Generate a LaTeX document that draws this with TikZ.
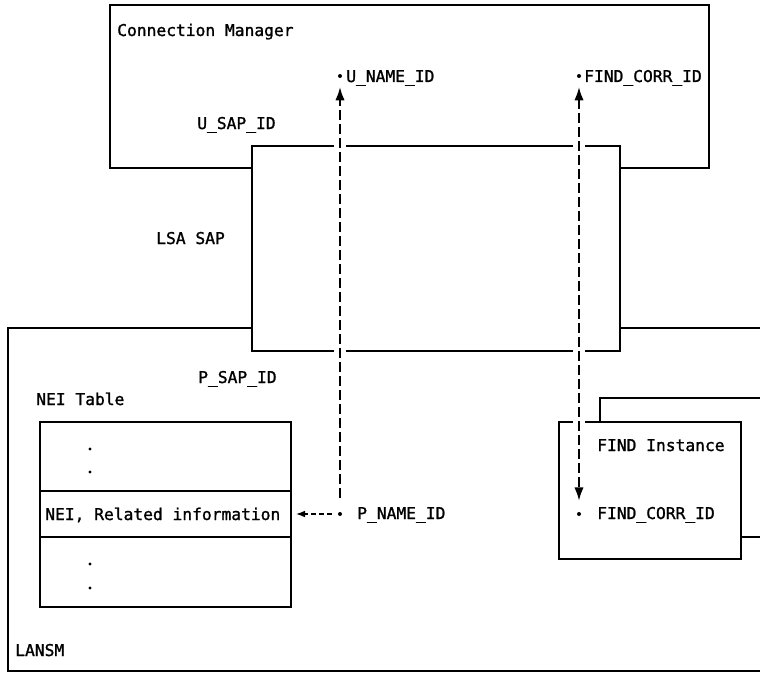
\documentclass[tikz,border=0pt]{standalone}
\usepackage{fontspec}
\setmainfont{DejaVu Sans Mono}[BoldFont=DejaVu Sans Mono, BoldFeatures={FakeBold=1.3}]
\usetikzlibrary{arrows.meta}
\tikzset{
  frame/.style={draw=black, line width=1pt},
  whitebox/.style={frame, fill=white},
  lbl/.style={anchor=base west, inner sep=0pt, font=\fontsize{12.2pt}{14pt}\selectfont\bfseries},
  pt/.style={circle, fill=black, inner sep=0pt, minimum size=3pt},
  tinydot/.style={circle, fill=black, inner sep=0pt, minimum size=2.6pt},
  halo/.style={preaction={draw=white, line width=9pt, solid, arrows=-}},
  longdash/.style={line width=1.5pt, dash pattern=on 7.5pt off 3pt},
  shortdash/.style={line width=1.2pt, dash pattern=on 3.5pt off 2.5pt}
}
\begin{document}
\begin{tikzpicture}[x=0.75pt,y=-0.75pt]
\useasboundingbox (0,0) rectangle (760,674);
\clip (0,0) rectangle (760,674);

% outer modules
\draw[frame] (110,5) rectangle (709,168);
\draw[frame] (8,328) rectangle (790,671);
\draw[whitebox] (252,146) rectangle (620,351);

% FIND instances (stacked)
\draw[whitebox] (600,398) rectangle (790,537);
\draw[whitebox] (559,422) rectangle (741,559);

% NEI table
\draw[frame] (40,422) rectangle (291,491);
\draw[frame] (40,491) rectangle (291,537);
\draw[frame] (40,537) rectangle (291,607);
\coordinate (neirow) at (291,514);

% reference points
\node[pt] (unm) at (340,76) {};
\node[pt] (fcm) at (579,76) {};
\node[pt] (pnm) at (340,514) {};
\node[pt] (fci) at (579,514) {};

% connectors
\draw[longdash, halo, -{Latex[length=10pt,width=7pt]},
      shorten <=10.5pt, shorten >=6.5pt] (pnm) -- (unm);
\draw[longdash, halo, {Latex[length=10pt,width=7pt]}-{Latex[length=10pt,width=7pt]},
      shorten <=6.5pt, shorten >=8.2pt] (fcm) -- (fci);
\draw[shortdash, -{Latex[length=7pt,width=5pt]},
      shorten <=4.5pt, shorten >=3.5pt] (pnm) -- (neirow);

% table rows
\node[tinydot] (d1) at (90,449) {};
\node[tinydot] (d2) at (90,472) {};
\node[tinydot] (d3) at (90,564) {};
\node[tinydot] (d4) at (90,588) {};

% labels
\node[lbl] (cm)    at (117,36)  {Connection Manager};
\node[lbl] (unmt)  at (346,82)  {U\_NAME\_ID};
\node[lbl] (fcmt)  at (584,82)  {FIND\_CORR\_ID};
\node[lbl] (usap)  at (197,129) {U\_SAP\_ID};
\node[lbl] (lsa)   at (156,244) {LSA SAP};
\node[lbl] (psap)  at (198,383) {P\_SAP\_ID};
\node[lbl] (neit)  at (36,405)  {NEI Table};
\node[lbl] (neirl) at (45,520)  {NEI, Related information};
\node[lbl] (pnmt)  at (357,519) {P\_NAME\_ID};
\node[lbl] (find)  at (597,451) {FIND Instance};
\node[lbl] (fcit)  at (597,519) {FIND\_CORR\_ID};
\node[lbl] (lansm) at (15,656)  {LANSM};
\end{tikzpicture}
\end{document}
